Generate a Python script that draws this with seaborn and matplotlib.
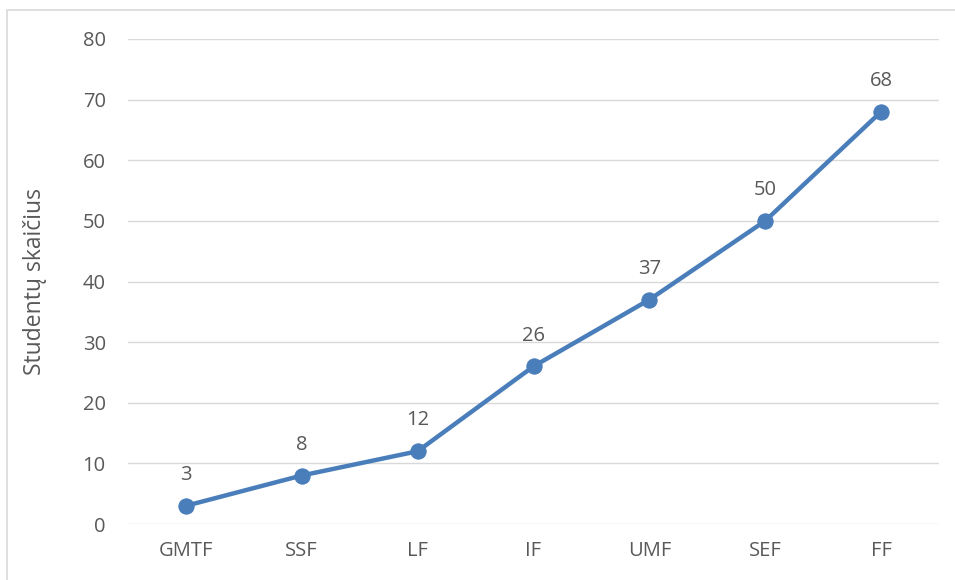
import matplotlib
matplotlib.use("Agg")
import matplotlib.pyplot as plt
import seaborn as sns
import pandas as pd
from matplotlib.patches import Rectangle

categories = ["GMTF", "SSF", "LF", "IF", "UMF", "SEF", "FF"]
values = [3, 8, 12, 26, 37, 50, 68]
yticks = [0, 10, 20, 30, 40, 50, 60, 70, 80]

sns.set_style("white")
plt.rcParams['font.family'] = ['Open Sans', 'DejaVu Sans']

df = pd.DataFrame({"cat": categories, "val": values})

fig = plt.figure(figsize=(9.55, 5.8), dpi=100)
ax = fig.add_axes([128/955, 1-524/580, (939-128)/955, (524-39)/580])

color = "#4a7ebb"
sns.lineplot(data=df, x="cat", y="val", ax=ax, color=color, linewidth=3.2,
             marker="o", markersize=11, markeredgecolor=color, sort=False)

for i, v in enumerate(values):
    ax.annotate(str(v), (i, v), xytext=(0, 15), textcoords="offset points",
                ha="center", va="bottom", fontsize=14.5, color="#595959")

ax.set_xlim(-0.5, len(categories) - 0.5)
ax.set_ylim(0, 80)
ax.set_yticks(yticks)
ax.set_yticklabels([str(t) for t in yticks])
ax.grid(axis="y", color="#d9d9d9", linewidth=1)
ax.set_axisbelow(True)
for s in ax.spines.values():
    s.set_visible(False)
ax.tick_params(axis="both", length=0, labelsize=14.5, labelcolor="#595959")
ax.tick_params(axis="y", pad=16)
ax.tick_params(axis="x", pad=12)
ax.set_xlabel("")
ax.set_ylabel("Studentų skaičius", fontsize=16.5, color="#595959", labelpad=26)

fig.patches.append(Rectangle((7/955, -0.1), 1.2, 1.1 - 10/580, transform=fig.transFigure,
                             fill=False, edgecolor="#d9d9d9", linewidth=1.2))

fig.savefig("out.png", dpi=100)
